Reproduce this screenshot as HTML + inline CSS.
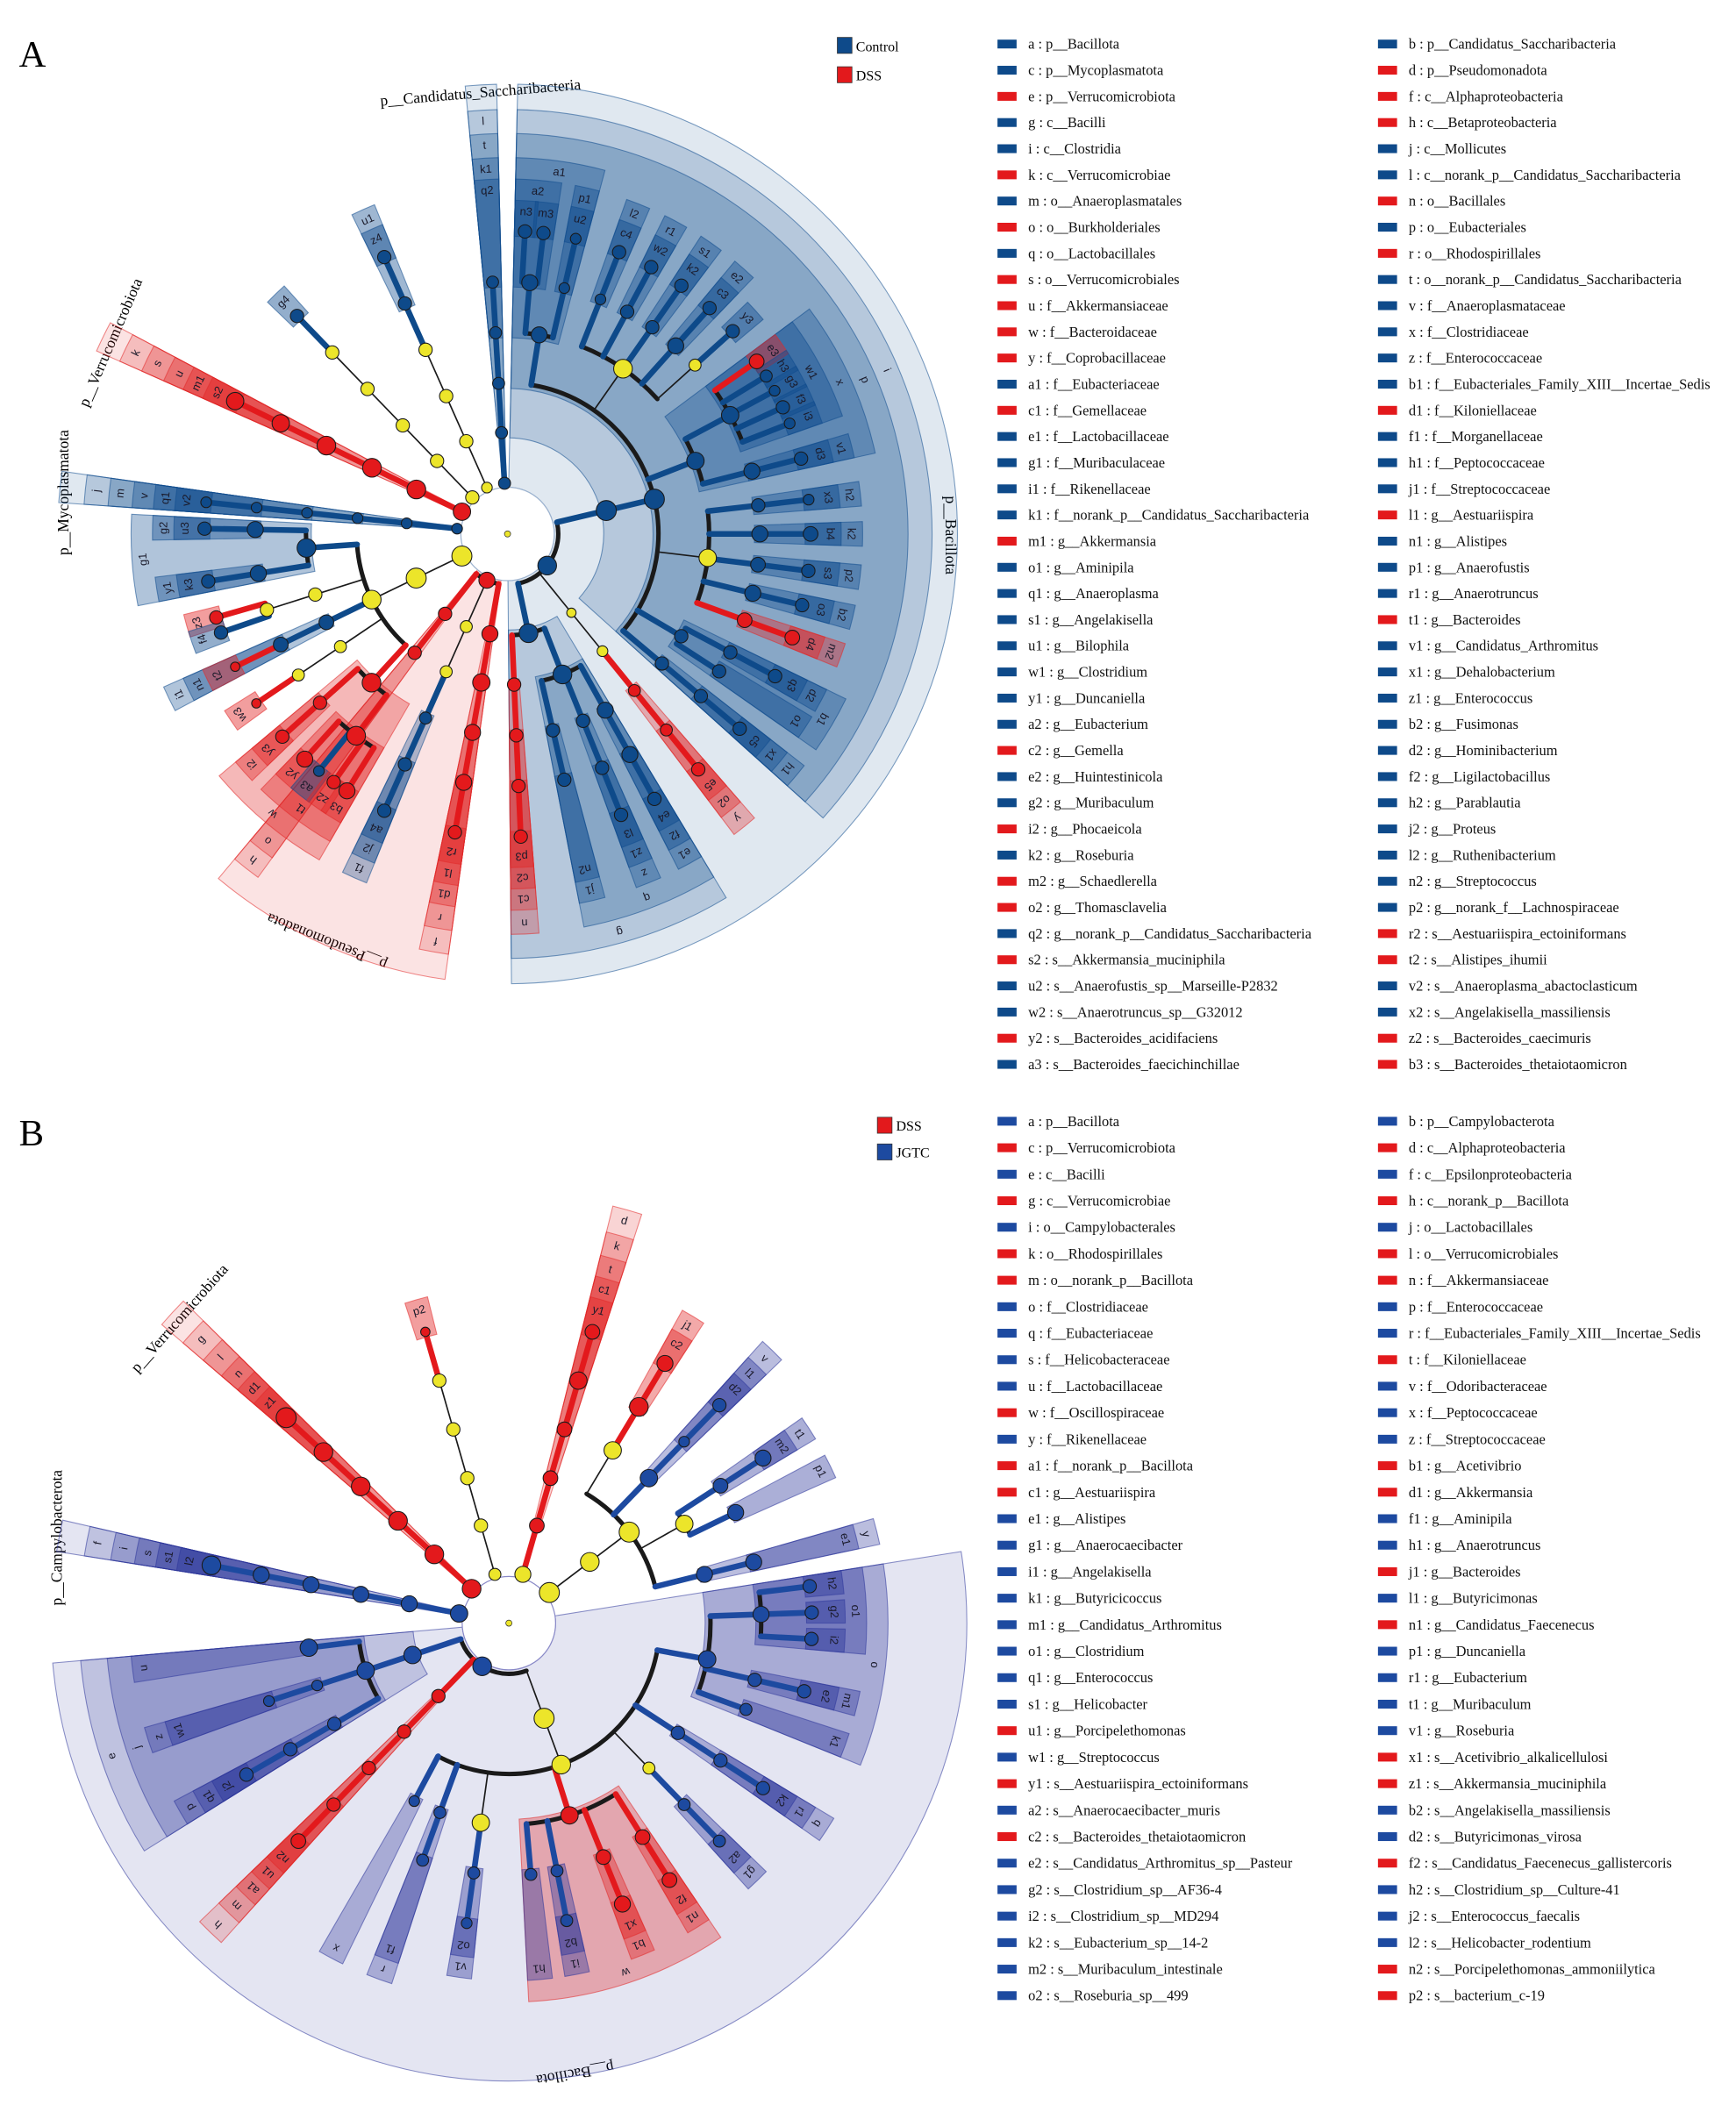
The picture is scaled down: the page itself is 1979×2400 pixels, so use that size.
<!DOCTYPE html>
<html><head><meta charset="utf-8"><title>LEfSe cladograms</title>
<style>
html,body{margin:0;padding:0;background:#fff;}
svg{display:block;}
text{font-family:"Liberation Serif",serif;}
.lab{font-family:"Liberation Sans",sans-serif;font-size:8.5px;fill:#1a1a2a;}
</style></head>
<body>
<svg id="chart" xmlns="http://www.w3.org/2000/svg" viewBox="0 0 1300 1577" width="1979" height="2400">
<rect x="0" y="0" width="1300" height="1577" fill="#fff"/>
<text x="14" y="50" font-size="28">A</text>
<text x="14" y="858" font-size="28">B</text>
<rect x="627" y="28" width="11" height="12" fill="#0e4a8a" stroke="#333" stroke-width="0.5"/>
<text x="641" y="38.5" font-size="10.5">Control</text>
<rect x="627" y="50" width="11" height="12" fill="#e3191c" stroke="#333" stroke-width="0.5"/>
<text x="641" y="60" font-size="10.5">DSS</text>
<rect x="657" y="837" width="11" height="12" fill="#e3191c" stroke="#333" stroke-width="0.5"/>
<text x="671" y="847" font-size="10.5">DSS</text>
<rect x="657" y="857" width="11" height="12" fill="#1d4aa0" stroke="#333" stroke-width="0.5"/>
<text x="671" y="867" font-size="10.5">JGTC</text>

<text font-size="11.5" text-anchor="middle" transform="translate(360,73) rotate(-4.7)">p__Candidatus_Saccharibacteria</text>
<text font-size="11.5" text-anchor="middle" transform="translate(86,258) rotate(-66.6)">p__Verrucomicrobiota</text>
<text font-size="11.5" text-anchor="middle" transform="translate(51,369) rotate(-90)">p__Mycoplasmatota</text>
<text font-size="11.5" text-anchor="middle" transform="translate(246,702) rotate(202)">p__Pseudomonadota</text>
<text font-size="11.5" text-anchor="middle" transform="translate(708,401) rotate(90)">p__Bacillota</text>
<text font-size="11.5" text-anchor="middle" transform="translate(137,990) rotate(-48.6)">p__Verrucomicrobiota</text>
<text font-size="11.5" text-anchor="middle" transform="translate(46,1152) rotate(-90)">p__Campylobacterota</text>
<text font-size="11.5" text-anchor="middle" transform="translate(430,1550) rotate(170)">p__Bacillota</text>
</svg>
<script>
// ---------- data: legend entries ----------
const legA1=["a : p__Bacillota|B","c : p__Mycoplasmatota|B","e : p__Verrucomicrobiota|R","g : c__Bacilli|B","i : c__Clostridia|B","k : c__Verrucomicrobiae|R","m : o__Anaeroplasmatales|B","o : o__Burkholderiales|R","q : o__Lactobacillales|B","s : o__Verrucomicrobiales|R","u : f__Akkermansiaceae|R","w : f__Bacteroidaceae|R","y : f__Coprobacillaceae|R","a1 : f__Eubacteriaceae|B","c1 : f__Gemellaceae|R","e1 : f__Lactobacillaceae|B","g1 : f__Muribaculaceae|B","i1 : f__Rikenellaceae|B","k1 : f__norank_p__Candidatus_Saccharibacteria|B","m1 : g__Akkermansia|R","o1 : g__Aminipila|B","q1 : g__Anaeroplasma|B","s1 : g__Angelakisella|B","u1 : g__Bilophila|B","w1 : g__Clostridium|B","y1 : g__Duncaniella|B","a2 : g__Eubacterium|B","c2 : g__Gemella|R","e2 : g__Huintestinicola|B","g2 : g__Muribaculum|B","i2 : g__Phocaeicola|R","k2 : g__Roseburia|B","m2 : g__Schaedlerella|R","o2 : g__Thomasclavelia|R","q2 : g__norank_p__Candidatus_Saccharibacteria|B","s2 : s__Akkermansia_muciniphila|R","u2 : s__Anaerofustis_sp__Marseille-P2832|B","w2 : s__Anaerotruncus_sp__G32012|B","y2 : s__Bacteroides_acidifaciens|R","a3 : s__Bacteroides_faecichinchillae|B"];
const legA2=["b : p__Candidatus_Saccharibacteria|B","d : p__Pseudomonadota|R","f : c__Alphaproteobacteria|R","h : c__Betaproteobacteria|R","j : c__Mollicutes|B","l : c__norank_p__Candidatus_Saccharibacteria|B","n : o__Bacillales|R","p : o__Eubacteriales|B","r : o__Rhodospirillales|R","t : o__norank_p__Candidatus_Saccharibacteria|B","v : f__Anaeroplasmataceae|B","x : f__Clostridiaceae|B","z : f__Enterococcaceae|B","b1 : f__Eubacteriales_Family_XIII__Incertae_Sedis|B","d1 : f__Kiloniellaceae|R","f1 : f__Morganellaceae|B","h1 : f__Peptococcaceae|B","j1 : f__Streptococcaceae|B","l1 : g__Aestuariispira|R","n1 : g__Alistipes|B","p1 : g__Anaerofustis|B","r1 : g__Anaerotruncus|B","t1 : g__Bacteroides|R","v1 : g__Candidatus_Arthromitus|B","x1 : g__Dehalobacterium|B","z1 : g__Enterococcus|B","b2 : g__Fusimonas|B","d2 : g__Hominibacterium|B","f2 : g__Ligilactobacillus|B","h2 : g__Parablautia|B","j2 : g__Proteus|B","l2 : g__Ruthenibacterium|B","n2 : g__Streptococcus|B","p2 : g__norank_f__Lachnospiraceae|B","r2 : s__Aestuariispira_ectoiniformans|R","t2 : s__Alistipes_ihumii|R","v2 : s__Anaeroplasma_abactoclasticum|B","x2 : s__Angelakisella_massiliensis|B","z2 : s__Bacteroides_caecimuris|R","b3 : s__Bacteroides_thetaiotaomicron|R"];
const legB1=["a : p__Bacillota|B","c : p__Verrucomicrobiota|R","e : c__Bacilli|B","g : c__Verrucomicrobiae|R","i : o__Campylobacterales|B","k : o__Rhodospirillales|R","m : o__norank_p__Bacillota|R","o : f__Clostridiaceae|B","q : f__Eubacteriaceae|B","s : f__Helicobacteraceae|B","u : f__Lactobacillaceae|B","w : f__Oscillospiraceae|R","y : f__Rikenellaceae|B","a1 : f__norank_p__Bacillota|R","c1 : g__Aestuariispira|R","e1 : g__Alistipes|B","g1 : g__Anaerocaecibacter|B","i1 : g__Angelakisella|B","k1 : g__Butyricicoccus|B","m1 : g__Candidatus_Arthromitus|B","o1 : g__Clostridium|B","q1 : g__Enterococcus|B","s1 : g__Helicobacter|B","u1 : g__Porcipelethomonas|R","w1 : g__Streptococcus|B","y1 : s__Aestuariispira_ectoiniformans|R","a2 : s__Anaerocaecibacter_muris|B","c2 : s__Bacteroides_thetaiotaomicron|R","e2 : s__Candidatus_Arthromitus_sp__Pasteur|B","g2 : s__Clostridium_sp__AF36-4|B","i2 : s__Clostridium_sp__MD294|B","k2 : s__Eubacterium_sp__14-2|B","m2 : s__Muribaculum_intestinale|B","o2 : s__Roseburia_sp__499|B"];
const legB2=["b : p__Campylobacterota|B","d : c__Alphaproteobacteria|R","f : c__Epsilonproteobacteria|B","h : c__norank_p__Bacillota|R","j : o__Lactobacillales|B","l : o__Verrucomicrobiales|R","n : f__Akkermansiaceae|R","p : f__Enterococcaceae|B","r : f__Eubacteriales_Family_XIII__Incertae_Sedis|B","t : f__Kiloniellaceae|R","v : f__Odoribacteraceae|B","x : f__Peptococcaceae|B","z : f__Streptococcaceae|B","b1 : g__Acetivibrio|R","d1 : g__Akkermansia|R","f1 : g__Aminipila|B","h1 : g__Anaerotruncus|B","j1 : g__Bacteroides|R","l1 : g__Butyricimonas|B","n1 : g__Candidatus_Faecenecus|R","p1 : g__Duncaniella|B","r1 : g__Eubacterium|B","t1 : g__Muribaculum|B","v1 : g__Roseburia|B","x1 : s__Acetivibrio_alkalicellulosi|R","z1 : s__Akkermansia_muciniphila|R","b2 : s__Angelakisella_massiliensis|B","d2 : s__Butyricimonas_virosa|B","f2 : s__Candidatus_Faecenecus_gallistercoris|R","h2 : s__Clostridium_sp__Culture-41|B","j2 : s__Enterococcus_faecalis|B","l2 : s__Helicobacter_rodentium|B","n2 : s__Porcipelethomonas_ammoniilytica|R","p2 : s__bacterium_c-19|R"];

// ---------- data: trees [label, group(B/R/Y), leafAngle | children, nodeSize] ----------
const treeA=[
 ['b','B',[['l','B',[['t','B',[['k1','B',[['q2','B',356.6,4.5]],4.5]],4.5]],4.5]],4.5],
 ['','Y',[['','Y',[['','Y',[['','Y',[['u1','B',[['z4','B',336]],5]],5]],5]],5]],4],
 ['','Y',[['','Y',[['','Y',[['','Y',[['','Y',[['g4','B',316]],5]],5]],5]],5]],5],
 ['e','R',[['k','R',[['s','R',[['u','R',[['m1','R',[['s2','R',296,6.5]],6.5]],7]],7]],7]],6.5],
 ['c','B',[['j','B',[['m','B',[['v','B',[['q1','B',[['v2','B',276,4]],4]],4]],4]],4]],4],
 ['','Y',[['','Y',[['','Y',[
   ['g1','B',[['g2','B',[['u3','B',271]],6],['y1','B',[['k3','B',261]],6]],7],
   ['','Y',[['','Y',[['z3','R',254],['f4','B',251]],5]],5],
   ['i1','B',[['n1','B',[['t2','R',244,3.5]],5.5]],5.5],
   ['','Y',[['','Y',[['w3','R',236,3.5]],4.5]],4.5],
   ['w','R',[['i2','R',[['y3','R',228]],5],['t1','R',[['y2','R',222,6],['a3','B',218.5,4],['z2','R',215,5],['b3','R',212,6]],7]],7]
 ],7]],7.5]],7.5],
 ['d','R',[
   ['h','R',[['o','R',218,5]],5],
   ['','Y',[['','Y',[['f1','B',[['j2','B',[['a4','B',204]],5]],4.5]],4.5]],4.5],
   ['f','R',[['r','R',[['d1','R',[['l1','R',[['r2','R',190]],6]],6]],6.5]],6]
 ],6],
 ['a','B',[
   ['g','B',[
     ['q','B',[['e1','B',[['f2','B',[['e4','B',151]],6]],6],['z','B',[['z1','B',[['l3','B',158]],5]],5],['j1','B',[['n2','B',167,5]],5]],7],
     ['n','R',[['c1','R',[['c2','R',[['p3','R',177.5]],5]],5]],5]
   ],7],
   ['','Y',[['','Y',[['y','R',[['o2','R',[['e5','R',141]],4.5]],4.5]],4]],3.5],
   ['i','B',[['p','B',[
     ['a1','B',[['a2','B',[['n3','B',3.3],['m3','B',6.8]],6],['p1','B',[['u2','B',13,4]],4]],6],
     ['','Y',[['l2','B',[['c4','B',21.6]],4],['r1','B',[['w2','B',28.3]],5],['s1','B',[['k2','B',35]],5],['e2','B',[['c3','B',41.8]],6],['','Y',[['y3','B',48]],4.5]],7],
     ['x','B',[['w1','B',[['e3','R',55.3,5.5],['h3','B',58.6,4.5],['g3','B',61.8,4],['f3','B',65.3,5],['i3','B',68.6,4]],6.5],['v1','B',[['d3','B',75.6]],6]],6.5],
     ['','Y',[['h2','B',[['x3','B',83.5,4]],5],['k2','B',[['b4','B',90,5.5]],6],['p2','B',[['s3','B',97]],5.5],['b2','B',[['o3','B',103.6]],6],['m2','R',[['d4','R',110,5.5]],5.5]],6.5],
     ['b1','B',[['d2','B',[['q3','B',118]],5],['o1','B',123,5]],5],
     ['h1','B',[['x1','B',[['c5','B',130]],5]],5]
   ],7.5]],7.5]
 ],7]
];
const treeB=[
 ['b','B',[['f','B',[['i','B',[['s','B',[['s1','B',[['l2','B',281,7]],6]],6]],6]],6]],6.5],
 ['c','R',[['g','R',[['l','R',[['n','R',[['d1','R',[['z1','R',312.7,7.5]],7]],7]],7]],7]],7],
 ['','Y',[['','Y',[['','Y',[['','Y',[['','Y',[['p2','R',344,3.5]],5]],5]],5]],5]],4.5],
 ['','Y',[['d','R',[['k','R',[['t','R',[['c1','R',[['y1','R',16,5.5]],6.5]],5.5]],5.5]],5.5]],6],
 ['','Y',[['','Y',[['','Y',[
   ['','Y',[['j1','R',[['c2','R',31,6]],7]],6.5],
   ['v','B',[['l1','B',[['d2','B',44,5]],4]],6.5],
   ['','Y',[['t1','B',[['m2','B',57,6]],5.5],['p1','B',64,6]],6.5],
   ['y','B',[['e1','B',76,6]],6]
 ],7.5]],7]],7.5],
 ['a','B',[
   ['e','B',[['j','B',[['p','B',[['q1','B',[['j2','B',240,5]],5]],5],['z','B',[['w1','B',252,4]],4],['u','B',263,6.5]],6.5]],6.5],
   ['h','R',[['m','R',[['a1','R',[['u1','R',[['n2','R',224,5.5]],5]],5]],5]],5],
   ['','Y',[['','Y',[
     ['x','B',208,4],
     ['r','B',[['f1','B',200,4.5]],4.5],
     ['','Y',[['v1','B',[['o2','B',188,4]],4.5]],6.5],
     ['w','R',[['h1','B',175,4.5],['i1','B',[['b2','B',169,4.5]],4.5],['b1','R',[['x1','R',158,6]],5.5],['n1','R',[['f2','R',148,5.5]],5.5]],6.5],
     ['','Y',[['g1','B',[['a2','B',136,4.5]],4.5]],4.5],
     ['q','B',[['r1','B',[['k2','B',123,5]],5]],5],
     ['o','B',[['o1','B',[['h2','B',83,5],['g2','B',88,5],['i2','B',93,5]],6],['m1','B',[['e2','B',103,5]],5],['k1','B',110,4.5]],6.5]
   ],7]],7.5]
 ],7]
];

// ---------- drawing ----------
const NS='http://www.w3.org/2000/svg';
const svg=document.getElementById('chart');
function mk(tag,attrs,parent){const e=document.createElementNS(NS,tag);for(const k in attrs)e.setAttribute(k,attrs[k]);(parent||svg).appendChild(e);return e;}
function pol(cx,cy,r,a){const t=a*Math.PI/180;return [cx+r*Math.sin(t),cy-r*Math.cos(t)];}
function build(a,depth){
  const n={label:a[0],col:a[1],depth:depth,size:a[3]};
  if(Array.isArray(a[2])){
    n.kids=a[2].map(k=>build(k,depth+1));
    n.ang=n.kids.reduce((s,k)=>s+k.ang,0)/n.kids.length;
    n.min=Math.min(...n.kids.map(k=>k.min));n.max=Math.max(...n.kids.map(k=>k.max));
  } else {n.kids=[];n.ang=a[2];n.min=n.max=a[2];}
  return n;
}
function wedge(cx,cy,r0,r1,a0,a1){
  const p1=pol(cx,cy,r1,a0),p2=pol(cx,cy,r1,a1),p3=pol(cx,cy,r0,a1),p4=pol(cx,cy,r0,a0);
  const la=(a1-a0)>180?1:0;
  return `M${p1[0]},${p1[1]} A${r1},${r1} 0 ${la} 1 ${p2[0]},${p2[1]} L${p3[0]},${p3[1]} A${r0},${r0} 0 ${la} 0 ${p4[0]},${p4[1]} Z`;
}
function arcPath(cx,cy,r,a0,a1){
  const p1=pol(cx,cy,r,a0),p2=pol(cx,cy,r,a1);const la=(a1-a0)>180?1:0;
  return `M${p1[0]},${p1[1]} A${r},${r} 0 ${la} 1 ${p2[0]},${p2[1]}`;
}
function drawChart(cfg){
  const g=mk('g',{});
  
  
  const phyla=cfg.tree.map(t=>build(t,1));
  const all=[];(function walk(ns){ns.forEach(n=>{all.push(n);walk(n.kids);});})(phyla);
  const {cx,cy,R,OUT}=cfg;
  const alph=[0,0.13,0.2,0.27,0.33,0.4,0.45];
  const pad=2;
  const secG=mk('g',{},g);
  all.filter(n=>n.col!=='Y').sort((a,b)=>a.depth-b.depth).forEach(n=>{
    const base=n.col==='B'?cfg.secB:cfg.secR;
    const r0=n.depth===1?35:R[n.depth]-4;
    const p=mk('path',{d:wedge(cx,cy,r0,OUT[n.depth],n.min-pad,n.max+pad),fill:`rgba(${base},${alph[n.depth]})`,stroke:`rgba(${base},0.55)`,'stroke-width':0.7},secG);
    
    
  });
  const ic=mk('circle',{cx:cx,cy:cy,r:35,fill:'#fff',stroke:cfg.ring,'stroke-width':0.8},g);
  
  
  const edG=mk('g',{fill:'none','stroke-linecap':'round'},g);
  all.forEach(n=>{
    if(!n.kids.length)return;
    const d=n.depth;
    if(n.kids.length>1){
      const a0=Math.min(n.ang,...n.kids.map(k=>k.ang)),a1=Math.max(n.ang,...n.kids.map(k=>k.ang));
      const thin=n.col==='Y'&&(n.size||4.5)<5.5;
      const ar=mk('path',{d:arcPath(cx,cy,R[d],a0,a1),stroke:'#1a1a1a','stroke-width':thin?1.2:3.3},edG);
      
      
    }
    n.kids.forEach(k=>{
      const p0=pol(cx,cy,R[d],k.ang),p1=pol(cx,cy,R[d+1],k.ang);
      const colored=k.col!=='Y';
      const ln=mk('line',{x1:p0[0],y1:p0[1],x2:p1[0],y2:p1[1],stroke:colored?cfg.colors[k.col]:'#1a1a1a','stroke-width':colored?4.3:1.1},edG);
      
      
    });
  });
  const ndG=mk('g',{},g);
  const defs=[0,7,6.5,6,6,5.5,5];
  all.forEach(n=>{
    const p=pol(cx,cy,R[n.depth],n.ang);
    const r=n.size||(n.col==='Y'?4.5:defs[n.depth]);
    const c=mk('circle',{cx:p[0],cy:p[1],r:r,fill:cfg.colors[n.col],stroke:'#1a1a1a','stroke-width':0.7},ndG);
    
    
  });
  const root=mk('circle',{cx:cx,cy:cy,r:2.3,fill:cfg.colors.Y,stroke:'#333','stroke-width':0.5},ndG);
  
  
  const lbG=mk('g',{},g);
  all.filter(n=>n.col!=='Y'&&n.label&&n.depth>1).forEach(n=>{
    const a=(n.min+n.max)/2;
    const p=pol(cx,cy,OUT[n.depth]-8,a);
    const t=mk('text',{class:'lab','text-anchor':'middle','dominant-baseline':'central',transform:`translate(${p[0]},${p[1]}) rotate(${a})`},lbG);
    t.textContent=n.label;
    
    
  });
}
drawChart({name:'cladogram-a',tree:treeA,cx:380,cy:400,R:[0,38,76,113,151,189,227],OUT:[0,337,318,300,282,266,250],
  colors:{B:'#0e4a8a',R:'#e3191c',Y:'#ece52a'},secB:'16,76,142',secR:'226,40,40',ring:'#9db3cf'});
drawChart({name:'cladogram-b',tree:treeB,cx:381,cy:1216,R:[0,38,76,113,151,189,227],OUT:[0,343,322,302,284,268,252],
  colors:{B:'#1d4aa0',R:'#e3191c',Y:'#ece52a'},secB:'45,55,155',secR:'226,40,40',ring:'#8a8ac8'});

function legend(list,x,y0,dy,cols,prefix){
  list.forEach((s,i)=>{
    const [txt,c]=s.split('|');
    const y=y0+i*dy;
    const r=mk('rect',{x:x,y:y-3.3,width:14.3,height:6.6,fill:cols[c]});
    
    
    const t=mk('text',{x:x+23,y:y+3.6,'font-size':10.8,fill:'#111'});
    t.textContent=txt;
    
    
  });
}
const colA={B:'#0e4a8a',R:'#e3191c'},colB={B:'#1d4aa0',R:'#e3191c'};
legend(legA1,747,33,19.6,colA,'legend-a');
legend(legA2,1032,33,19.6,colA,'legend-a');
legend(legB1,747,840,19.85,colB,'legend-b');
legend(legB2,1032,840,19.85,colB,'legend-b');
</script>
</body></html>
